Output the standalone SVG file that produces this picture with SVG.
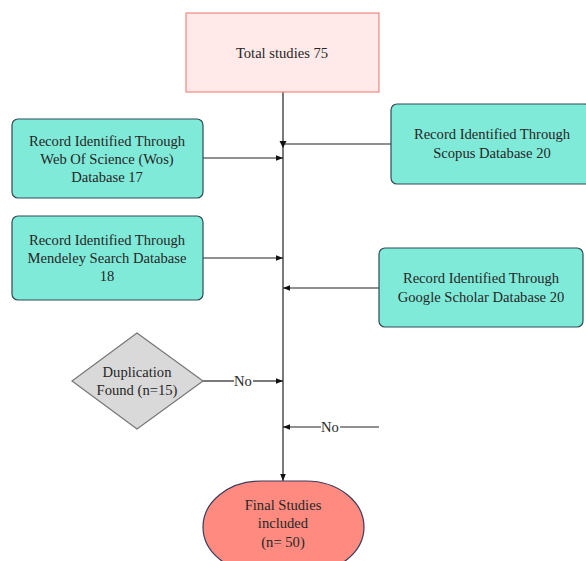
<svg xmlns="http://www.w3.org/2000/svg" width="586" height="561" viewBox="0 0 586 561" font-family="'Liberation Serif', 'Times New Roman', serif">
<defs>
<marker id="ah" viewBox="0 0 10 10" refX="10" refY="5" markerWidth="7" markerHeight="7" orient="auto" markerUnits="userSpaceOnUse"><path d="M0,1 L10,5 L0,9 Z" fill="#111"/></marker>
<style>
text{font-family:"Liberation Serif","Times New Roman",serif;font-size:14.6px;fill:#262626;text-anchor:middle}
.db{fill:#80EAD9;stroke:#2E4A58;stroke-width:1.2}
.ln{stroke:#222;stroke-width:1.2;fill:none}
</style>
</defs>
<rect width="586" height="561" fill="#fff"/>
<g id="connectors">
<line class="ln" x1="283" y1="92" x2="283" y2="481" marker-end="url(#ah)"/>
<line class="ln" x1="203" y1="158" x2="283" y2="158" marker-end="url(#ah)"/>
<line class="ln" x1="391" y1="144" x2="283" y2="144"/>
<path d="M279.5,141 L286.5,141 L283,148 Z" fill="#111"/>
<line class="ln" x1="203" y1="258" x2="283" y2="258" marker-end="url(#ah)"/>
<line class="ln" x1="379" y1="288" x2="283" y2="288" marker-end="url(#ah)"/>
<line class="ln" x1="203" y1="381" x2="234" y2="381"/>
<line class="ln" x1="253" y1="381" x2="283" y2="381" marker-end="url(#ah)"/>
<text x="243" y="386">No</text>
<line class="ln" x1="379" y1="427" x2="340" y2="427"/>
<line class="ln" x1="321" y1="427" x2="283" y2="427" marker-end="url(#ah)"/>
<text x="330" y="432">No</text>
</g>
<g id="total">
<rect x="186" y="13" width="193" height="79" fill="#FFE9E9" stroke="#F28880" stroke-width="1.2"/>
<text x="282" y="58">Total studies 75</text>
</g>
<g id="wos">
<rect class="db" x="12" y="119" width="191" height="79" rx="6"/>
<text x="107" y="146">Record Identified Through</text>
<text x="107" y="164">Web Of Science (Wos)</text>
<text x="107" y="182">Database 17</text>
</g>
<g id="scopus">
<rect class="db" x="391" y="104" width="200" height="80" rx="6"/>
<text x="492" y="139">Record Identified Through</text>
<text x="492" y="158">Scopus Database 20</text>
</g>
<g id="mendeley">
<rect class="db" x="12" y="216" width="191" height="84" rx="6"/>
<text x="107" y="245">Record Identified Through</text>
<text x="107" y="263">Mendeley Search Database</text>
<text x="107" y="281">18</text>
</g>
<g id="google">
<rect class="db" x="379" y="248" width="204" height="79" rx="6"/>
<text x="481" y="283">Record Identified Through</text>
<text x="481" y="302">Google Scholar Database 20</text>
</g>
<g id="duplication">
<polygon points="137,333 203,381 137,429 72,381" fill="#D9D9D9" stroke="#777" stroke-width="1.2"/>
<text x="137" y="377">Duplication</text>
<text x="137" y="395">Found (n=15)</text>
</g>
<g id="final">
<rect x="203" y="481" width="161" height="92" rx="58" fill="#FF8B80" stroke="#3A3A5A" stroke-width="1.2"/>
<text x="283" y="510">Final Studies</text>
<text x="283" y="528">included</text>
<text x="283" y="547">(n= 50)</text>
</g>
</svg>
